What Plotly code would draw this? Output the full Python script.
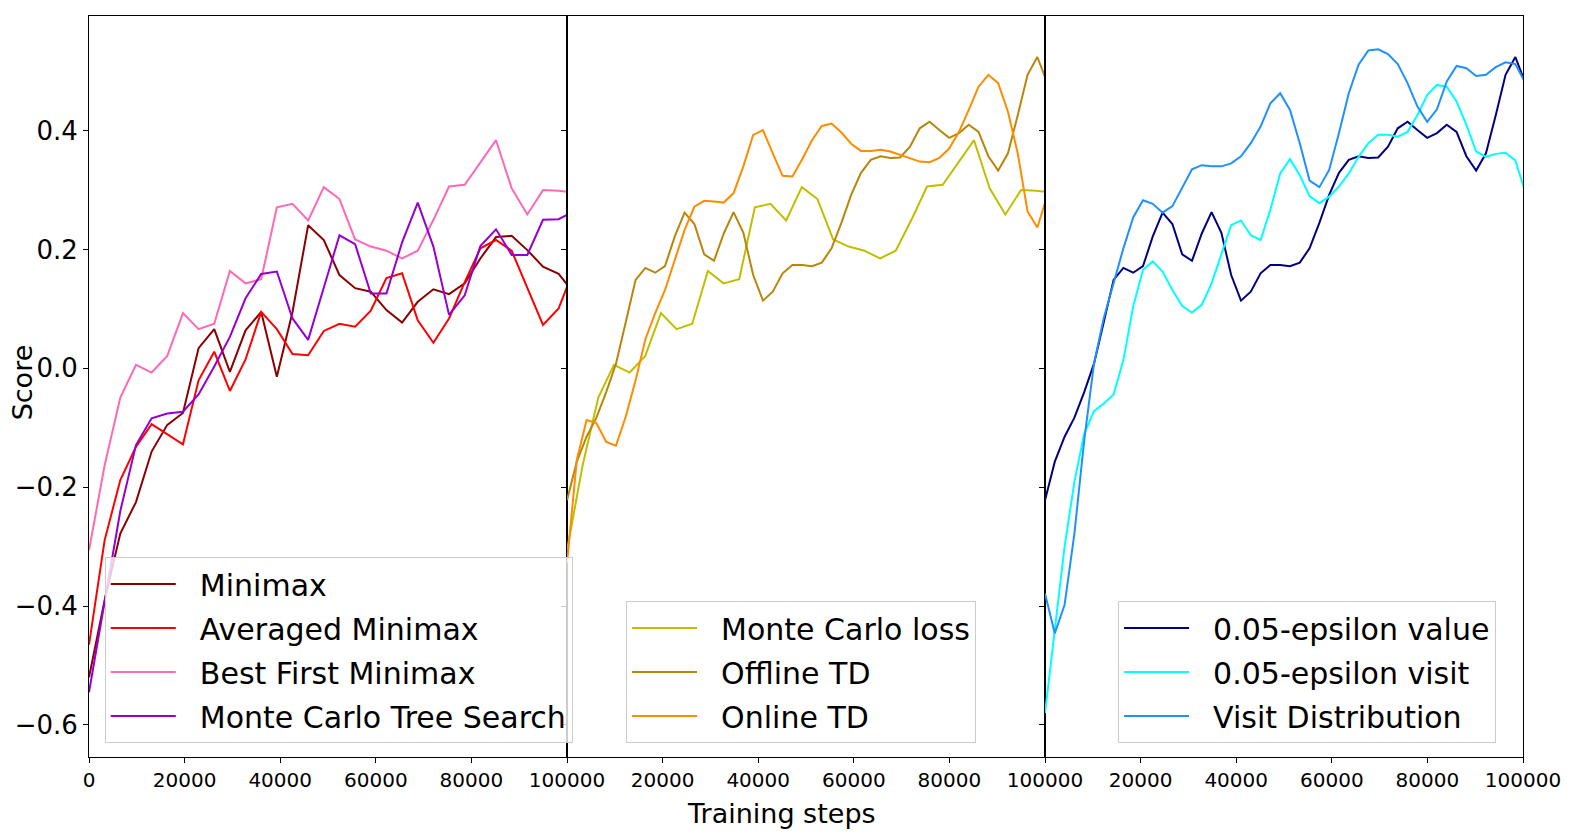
import plotly.graph_objects as go
from plotly.subplots import make_subplots

# training steps of the two logging schedules
steps_a = [0, 3275, 6550, 9825, 13100, 16375, 19650, 22925, 26200, 29475,
           32750, 36025, 39300, 42575, 45850, 49125, 52400, 55675, 58950, 62225,
           65500, 68775, 72050, 75325, 78600, 81875, 85150, 88425, 91700, 94975,
           98250, 101525]
steps_b = [0, 2050, 4100, 6150, 8200, 10250, 12300, 14350, 16400, 18450,
           20500, 22550, 24600, 26650, 28700, 30750, 32800, 34850, 36900, 38950,
           41000, 43050, 45100, 47150, 49200, 51250, 53300, 55350, 57400, 59450,
           61500, 63550, 65600, 67650, 69700, 71750, 73800, 75850, 77900, 79950,
           82000, 84050, 86100, 88150, 90200, 92250, 94300, 96350, 98400, 100450]

# panel 1: search algorithms
minimax = [-0.52, -0.39, -0.278, -0.225, -0.140, -0.095, -0.075, 0.034, 0.066, -0.006,
           0.064, 0.095, -0.014, 0.095, 0.241, 0.216, 0.157, 0.135, 0.129, 0.098,
           0.077, 0.112, 0.133, 0.125, 0.143, 0.185, 0.221, 0.223, 0.199, 0.171,
           0.159, 0.126]
averaged_minimax = [-0.465, -0.289, -0.188, -0.132, -0.094, -0.111, -0.128, -0.020, 0.028, -0.038,
                    0.015, 0.095, 0.066, 0.024, 0.022, 0.063, 0.075, 0.070, 0.097, 0.152,
                    0.160, 0.081, 0.043, 0.084, 0.145, 0.202, 0.216, 0.198, 0.135, 0.073,
                    0.101, 0.168]
best_first_minimax = [-0.306, -0.163, -0.049, 0.006, -0.007, 0.021, 0.093, 0.066, 0.075, 0.164,
                      0.143, 0.150, 0.271, 0.277, 0.249, 0.305, 0.285, 0.217, 0.205, 0.198,
                      0.185, 0.198, 0.250, 0.306, 0.309, 0.346, 0.384, 0.303, 0.259, 0.300,
                      0.299, 0.296]
mcts = [-0.545, -0.39, -0.24, -0.129, -0.084, -0.076, -0.073, -0.044, 0.003, 0.053,
        0.118, 0.159, 0.163, 0.084, 0.048, 0.136, 0.224, 0.209, 0.126, 0.126,
        0.212, 0.279, 0.205, 0.090, 0.123, 0.206, 0.234, 0.191, 0.191, 0.250,
        0.251, 0.265]

# panel 2: learning targets (Monte Carlo loss is the best first run)
monte_carlo_loss = best_first_minimax
offline_td = [-0.222, -0.157, -0.115, -0.083, -0.040, 0.008, 0.078, 0.149, 0.169, 0.161,
              0.172, 0.222, 0.262, 0.243, 0.192, 0.181, 0.227, 0.263, 0.228, 0.157,
              0.114, 0.129, 0.160, 0.174, 0.174, 0.172, 0.178, 0.202, 0.245, 0.292,
              0.329, 0.351, 0.357, 0.354, 0.355, 0.373, 0.404, 0.415, 0.401, 0.388,
              0.396, 0.410, 0.398, 0.357, 0.333, 0.362, 0.426, 0.494, 0.524, 0.481]
online_td = [-0.328, -0.154, -0.087, -0.092, -0.124, -0.130, -0.081, -0.020, 0.049, 0.093,
             0.132, 0.182, 0.233, 0.272, 0.282, 0.281, 0.279, 0.295, 0.340, 0.393,
             0.401, 0.362, 0.324, 0.323, 0.352, 0.384, 0.408, 0.412, 0.397, 0.378,
             0.366, 0.366, 0.368, 0.365, 0.359, 0.354, 0.348, 0.347, 0.354, 0.370,
             0.398, 0.435, 0.474, 0.494, 0.480, 0.432, 0.362, 0.264, 0.237, 0.290]

# panel 3: action selection (epsilon value is the offline TD run)
eps_value = offline_td
eps_visit = [-0.58, -0.438, -0.30, -0.191, -0.110, -0.072, -0.059, -0.044, 0.014, 0.104,
             0.166, 0.180, 0.163, 0.132, 0.105, 0.094, 0.107, 0.143, 0.191, 0.241,
             0.249, 0.224, 0.216, 0.267, 0.328, 0.352, 0.325, 0.290, 0.278, 0.289,
             0.306, 0.328, 0.356, 0.379, 0.393, 0.393, 0.390, 0.398, 0.426, 0.460,
             0.477, 0.474, 0.449, 0.410, 0.365, 0.356, 0.361, 0.363, 0.350, 0.297]
visit_distribution = [-0.379, -0.446, -0.398, -0.278, -0.121, 0.008, 0.085, 0.143, 0.202, 0.254,
                      0.283, 0.277, 0.262, 0.273, 0.305, 0.335, 0.342, 0.340, 0.340, 0.345,
                      0.357, 0.379, 0.407, 0.446, 0.463, 0.435, 0.379, 0.316, 0.305, 0.334,
                      0.396, 0.463, 0.511, 0.535, 0.537, 0.529, 0.512, 0.480, 0.441, 0.415,
                      0.436, 0.483, 0.509, 0.505, 0.492, 0.494, 0.507, 0.515, 0.512, 0.481]

y_ticks = [-0.6, -0.4, -0.2, 0.0, 0.2, 0.4]
y_labels = ["\u22120.6", "\u22120.4", "\u22120.2", "0.0", "0.2", "0.4"]
x_ticks = [0, 20000, 40000, 60000, 80000, 100000]
x_labels = ["0", "20000", "40000", "60000", "80000", "100000"]

panels = [
    [("Minimax", steps_a, minimax, "#8B0000"),
     ("Averaged Minimax", steps_a, averaged_minimax, "#FF0000"),
     ("Best First Minimax", steps_a, best_first_minimax, "#FF69B4"),
     ("Monte Carlo Tree Search", steps_a, mcts, "#9400D3")],
    [("Monte Carlo loss", steps_a, monte_carlo_loss, "#BFBF00"),
     ("Offline TD", steps_b, offline_td, "#B8860B"),
     ("Online TD", steps_b, online_td, "#FF8C00")],
    [("0.05-epsilon value", steps_b, eps_value, "#000080"),
     ("0.05-epsilon visit", steps_b, eps_visit, "#00FFFF"),
     ("Visit Distribution", steps_b, visit_distribution, "#1E90FF")],
]

FONT = "DejaVu Sans"
GAP = "\u00a0\u00a0"  # room between legend line and label, like matplotlib

fig = make_subplots(rows=1, cols=3, shared_yaxes=True, horizontal_spacing=0)

for col, series in enumerate(panels, start=1):
    legend_name = "legend" if col == 1 else "legend%d" % col
    for name, xs, ys, color in series:
        fig.add_trace(go.Scatter(x=xs, y=ys, mode="lines", name=GAP + name,
                                 line=dict(color=color, width=2),
                                 legend=legend_name, legendgroup=name),
                      row=1, col=col)
    first = 0 if col == 1 else 1
    fig.update_xaxes(range=[0, 100000], tickvals=x_ticks[first:],
                     ticktext=x_labels[first:], row=1, col=col)

fig.update_xaxes(showgrid=False, zeroline=False, showline=True, mirror=True,
                 linecolor="black", linewidth=1, ticks="outside", ticklen=5,
                 tickcolor="black", automargin=False,
                 tickfont=dict(size=20, color="black", family=FONT))
fig.update_yaxes(range=[-0.654, 0.593], tickvals=y_ticks, ticktext=y_labels,
                 showgrid=False, zeroline=False, showline=True, mirror=True,
                 linecolor="black", linewidth=1, ticks="outside", ticklen=5,
                 tickcolor="black", automargin=False,
                 tickfont=dict(size=26, color="black", family=FONT))
fig.update_yaxes(showticklabels=False, row=1, col=2)
fig.update_yaxes(showticklabels=False, row=1, col=3)

legend_style = dict(font=dict(size=30, color="black", family=FONT),
                    bgcolor="rgba(255,255,255,0.8)", bordercolor="#cccccc",
                    borderwidth=1, itemwidth=65, tracegroupgap=2,
                    xanchor="left", yanchor="bottom")

# the page body adds an 8px offset, so the margins are shifted by it
fig.update_layout(
    width=1571, height=837,
    margin=dict(l=81, r=56, t=8, b=88),
    plot_bgcolor="white", paper_bgcolor="white",
    font=dict(family=FONT, color="black"),
    legend=dict(x=0.011, y=0.019, **legend_style),
    legend2=dict(x=0.3745, y=0.019, **legend_style),
    legend3=dict(x=0.7176, y=0.019, **legend_style),
    annotations=[
        dict(text="Training steps", xref="paper", yref="paper", x=0.4826, y=-0.0756,
             xanchor="center", yanchor="middle", showarrow=False,
             font=dict(size=27, color="black", family=FONT)),
        dict(text="Score", xref="paper", yref="paper", x=-0.0465, y=0.506,
             xanchor="center", yanchor="middle", textangle=-90, showarrow=False,
             font=dict(size=27, color="black", family=FONT)),
    ],
)

fig.write_html("out.html")
